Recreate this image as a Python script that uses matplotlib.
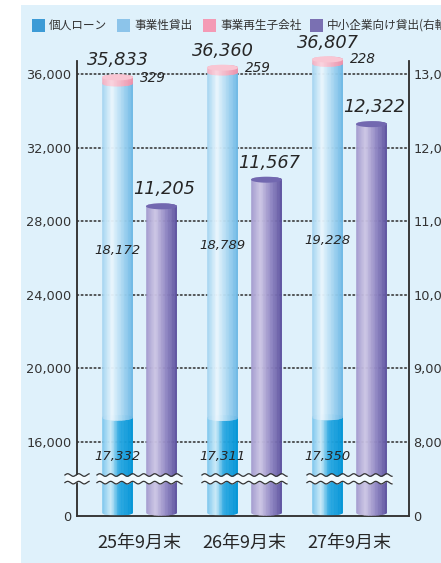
import numpy as np
import matplotlib
matplotlib.use("Agg")
import matplotlib.pyplot as plt
from matplotlib.patches import Polygon, Rectangle
from matplotlib.collections import PolyCollection
from matplotlib.colors import LinearSegmentedColormap

# ---------------- data ----------------
categories = ["25年9月末", "26年9月末", "27年9月末"]
personal_loans = [17332, 17311, 17350]      # 個人ローン
business_loans = [18172, 18789, 19228]      # 事業性貸出
subsidiary = [329, 259, 228]                # 事業再生子会社
totals = [35833, 36360, 36807]
sme_loans = [11205, 11567, 12322]           # 中小企業向け貸出(右軸)
left_ticks = [0, 16000, 20000, 24000, 28000, 32000, 36000]
right_ticks = [0, 8000, 9000, 10000, 11000, 12000, 13000]
legend_labels = ["個人ローン", "事業性貸出", "事業再生子会社", "中小企業向け貸出(右軸)"]
legend_colors = ["#3d9bd6", "#8cc4ea", "#f49ab5", "#7a70b2"]

CJK = ["Noto Sans CJK JP", "DejaVu Sans"]
NUM = ["DejaVu Sans"]
BG = "#dff1fb"
TXT = "#262626"

# ---------------- broken-axis scales ----------------
def fwd_l(v):
    v = np.asarray(v, dtype=float)
    return np.where(v < 16000, v / 4.0, v - 12000.0)

def inv_l(p):
    p = np.asarray(p, dtype=float)
    return np.where(p < 4000, p * 4.0, p + 12000.0)

def fwd_r(v):
    v = np.asarray(v, dtype=float)
    return np.where(v < 8000, v / 2.0, (v - 8000.0) * 4.0 + 4000.0)

def inv_r(p):
    p = np.asarray(p, dtype=float)
    return np.where(p < 4000, p * 2.0, (p - 4000.0) / 4.0 + 8000.0)

W, H, DPI = 441, 563, 100
fig = plt.figure(figsize=(W / DPI, H / DPI), dpi=DPI, facecolor="white")
fig.add_artist(Rectangle((21 / W, 0), 1 - 21 / W, 1 - 5 / H, transform=fig.transFigure,
                         facecolor=BG, edgecolor="none", zorder=-10))

ax_l, ax_r, ax_b, ax_t = 77, 409, 515.6, 60.5
ax = fig.add_axes([ax_l / W, (H - ax_b) / H, (ax_r - ax_l) / W, (ax_b - ax_t) / H])
ax.set_facecolor("none")
ax.set_yscale("function", functions=(fwd_l, inv_l))
TOP_L = 36750.0
ax.set_ylim(0, TOP_L)
ax.set_xlim(-0.595, 2.567)

ax2 = ax.twinx()
ax2.set_yscale("function", functions=(fwd_r, inv_r))
ax2.set_ylim(0, float(inv_r(fwd_l(TOP_L))))

PPX = float(fwd_l(TOP_L)) / (ax_b - ax_t)   # position units per pixel
XPX = 105.0                                 # pixels per category unit
RY = 3.0 * PPX
BAR_W = 31.0 / XPX
OFF = 22.0 / XPX

def cmap(stops):
    return LinearSegmentedColormap.from_list("c", stops)

cm_personal = cmap([(0, "#7cc6ee"), (0.28, "#cdebf9"), (0.55, "#2aa8e2"), (1, "#0094d6")])
cm_business = cmap([(0, "#a3d4f1"), (0.32, "#eaf6fd"), (0.62, "#b0dbf3"), (1, "#6ab7e5")])
cm_sub = cmap([(0, "#f4afc1"), (0.3, "#fbd3de"), (1, "#ef90a9")])
cm_sme = cmap([(0, "#a39ace"), (0.3, "#cdc6e5"), (0.62, "#948ac5"), (1, "#5a4f9d")])


def cylinder(axis, fwd, inv, xc, v0, v1, cm, cap=None, round_bottom=False, z=3):
    p0, p1 = float(fwd(v0)), float(fwd(v1))
    if round_bottom:
        p0 = p0 + RY
    n = 48
    tb = np.linspace(np.pi, 2 * np.pi, n)
    tt = np.linspace(0, np.pi, n)
    xs = np.concatenate([xc + BAR_W / 2 * np.cos(tb), xc + BAR_W / 2 * np.cos(tt)])
    ps = np.concatenate([p0 + RY * np.sin(tb), p1 + RY * np.sin(tt)])
    clip = Polygon(np.column_stack([xs, inv(ps)]), closed=True, facecolor="none",
                   edgecolor="none", transform=axis.transData, clip_on=False)
    axis.add_patch(clip)
    ns = 40
    edges = np.linspace(xc - BAR_W / 2, xc + BAR_W / 2, ns + 1)
    ylo, yhi = float(inv(p0 - RY)), float(inv(p1 + RY))
    strips = [[(edges[i], ylo), (edges[i + 1], ylo), (edges[i + 1], yhi), (edges[i], yhi)]
              for i in range(ns)]
    cols = cm((np.arange(ns) + 0.5) / ns)
    coll = PolyCollection(strips, facecolors=cols, edgecolors=cols, linewidths=0.4, zorder=z)
    axis.add_collection(coll, autolim=False)
    coll.set_clip_box(None)
    coll.set_clip_path(clip)
    if cap is not None:
        t = np.linspace(0, 2 * np.pi, 80)
        ev = np.column_stack([xc + BAR_W / 2 * np.cos(t), inv(p1 + RY * np.sin(t))])
        axis.add_patch(Polygon(ev, closed=True, facecolor=cap, edgecolor="none",
                               zorder=z + 0.1, clip_on=False))


# dotted grid
for t in left_ticks[1:]:
    ax.axhline(t, color="#333333", lw=1.15, ls=(0, (1, 1.7)), zorder=0.5,
               dash_capstyle="round")

x = np.arange(len(categories))
for i in range(len(categories)):
    xb = x[i] - OFF
    s1 = personal_loans[i]
    s2 = s1 + business_loans[i]
    s3 = s2 + subsidiary[i]
    cylinder(ax, fwd_l, inv_l, xb, 0, s1, cm_personal, round_bottom=True, z=3)
    cylinder(ax, fwd_l, inv_l, xb, s1, s2, cm_business, z=3.2)
    cylinder(ax, fwd_l, inv_l, xb, s2, s3, cm_sub, cap="#f9c6d3", z=3.4)
    xp = x[i] + OFF
    cylinder(ax2, fwd_r, inv_r, xp, 0, sme_loans[i], cm_sme, cap="#7268b0", round_bottom=True, z=3)

    ax.annotate(f"{totals[i]:,}", (xb, totals[i]), xytext=(0, 8.6), textcoords="offset points",
                ha="center", va="baseline", fontsize=12.8, style="italic", color=TXT,
                family=NUM, zorder=8, annotation_clip=False)
    ax.annotate(f"{subsidiary[i]}", (xb + BAR_W / 2, s2 + subsidiary[i] / 2), xytext=(5, 1.5),
                textcoords="offset points", ha="left", va="center", fontsize=9.8,
                style="italic", color=TXT, family=NUM, zorder=8, annotation_clip=False)
    ax.text(xb, s1 + business_loans[i] / 2, f"{business_loans[i]:,}", ha="center", va="center",
            fontsize=9.5, style="italic", color=TXT, family=NUM, zorder=8)
    ax.text(xb, float(inv_l(fwd_l(16000) - 14 * PPX)), f"{personal_loans[i]:,}", ha="center",
            va="center", fontsize=9.5, style="italic", color=TXT, family=NUM, zorder=8)
    ax2.annotate(f"{sme_loans[i]:,}", (xp, sme_loans[i]), xytext=(2, 8.6),
                 textcoords="offset points", ha="center", va="baseline", fontsize=12.8,
                 style="italic", color=TXT, family=NUM, zorder=8, annotation_clip=False)

# break marks (wavy double lines)
P_BRK = 2000.0
GAP = 3.8 * PPX
AMP = 1.3 * PPX
PER = 11.0 / XPX

def wave(x0, x1):
    xs = np.linspace(x0, x1, 200)
    s = AMP * np.sin(2 * np.pi * (xs - x0) / PER)
    lo = inv_r(P_BRK - GAP + s)
    hi = inv_r(P_BRK + GAP + s)
    ax2.fill_between(xs, lo, hi, color="#f2fafe", zorder=6, lw=0, clip_on=False)
    ax2.plot(xs, lo, color="#333333", lw=0.9, zorder=6.5, clip_on=False)
    ax2.plot(xs, hi, color="#333333", lw=0.9, zorder=6.5, clip_on=False)

for i in range(len(categories)):
    wave(x[i] - 0.405, x[i] + 0.405)
wave(-0.71, -0.48)

# axes styling
for a in (ax, ax2):
    a.spines["top"].set_visible(False)
    for s in ("left", "right", "bottom"):
        a.spines[s].set_color("#333333")
        a.spines[s].set_linewidth(1.1)
ax.set_yticks(left_ticks, [f"{t:,}" for t in left_ticks])
ax2.set_yticks(right_ticks, [f"{t:,}" for t in right_ticks])
ax.tick_params(axis="y", length=0, pad=4, labelsize=9.3, labelcolor="#333333")
ax2.tick_params(axis="y", length=0, pad=3, labelsize=9.3, labelcolor="#333333")
ax.set_xticks(x, categories)
ax.tick_params(axis="x", length=0, pad=13, labelsize=13, labelcolor=TXT)
for lab in ax.get_xticklabels():
    lab.set_family(CJK)
for lab in ax.get_yticklabels() + ax2.get_yticklabels():
    lab.set_family(NUM)
ax.minorticks_off()
ax2.minorticks_off()

# legend (manual, top strip)
sq_x = [32, 117, 203, 310]
for sx, lab, col in zip(sq_x, legend_labels, legend_colors):
    fig.add_artist(Rectangle((sx / W, 1 - 31.5 / H), 13 / W, 13 / H, transform=fig.transFigure,
                             facecolor=col, edgecolor="none"))
    fig.text((sx + 17) / W, 1 - 25 / H, lab, ha="left", va="center", fontsize=8.4,
             color="#333333", family=CJK)

fig.savefig("out.png", dpi=DPI, facecolor="white")
